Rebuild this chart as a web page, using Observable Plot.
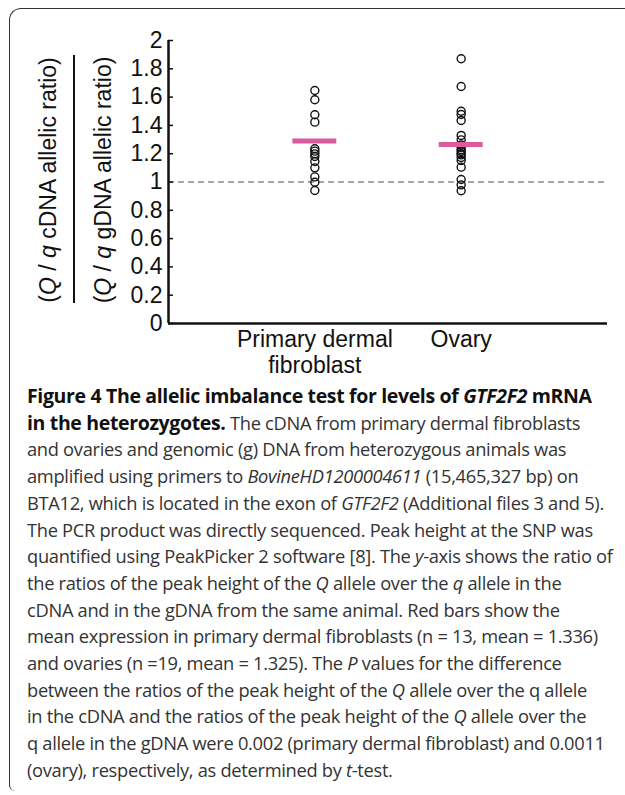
<!DOCTYPE html>
<html>
<head>
<meta charset="utf-8">
<script src="https://cdn.jsdelivr.net/npm/d3@7"></script>
<script src="https://cdn.jsdelivr.net/npm/@observablehq/plot@0.6"></script>
<style>
  html, body { margin: 0; padding: 0; background: #fff; }
  #wrap { position: relative; width: 625px; height: 795px; overflow: hidden; }
  #frame { position: absolute; left: 9px; top: 8px; width: 640px; height: 782px;
    border-top: 1.6px solid #333; border-left: 1.6px solid #333; border-top-left-radius: 12px; border-bottom-left-radius: 6px; }
  #chart { position: absolute; left: 0; top: 0; }
  .ytitle { position: absolute; transform: translate(-50%, -50%) rotate(-90deg); white-space: nowrap;
    font-family: "Liberation Sans", Arial, sans-serif; font-size: 23px; color: #111; }
  #fracbar { position: absolute; left: 73px; top: 55px; width: 2px; height: 248px; background: #111; }
  #caption { position: absolute; left: 27px; top: 383px; font-family: "Open Sans", sans-serif; font-size: 18.3px;
    line-height: 26.7px; color: #333; white-space: nowrap; letter-spacing: -0.3px; }
  #caption b { color: #111; font-size: 19.5px; letter-spacing: -0.35px; }
</style>
</head>
<body>
<div id="wrap">
  <div id="frame"></div>
  <div id="chart"></div>
  <div class="ytitle" style="left:48px; top:180px;">(<i>Q</i> / <i>q</i> cDNA allelic ratio)</div>
  <div id="fracbar"></div>
  <div class="ytitle" style="left:103px; top:180px;">(<i>Q</i> / <i>q</i> gDNA allelic ratio)</div>
  <div id="caption">
    <b>Figure 4 The allelic imbalance test for levels of <i>GTF2F2</i> mRNA</b><br>
    <b>in the heterozygotes.</b> The cDNA from primary dermal fibroblasts<br>
    and ovaries and genomic (g) DNA from heterozygous animals was<br>
    amplified using primers to <i>BovineHD1200004611</i> (15,465,327 bp) on<br>
    BTA12, which is located in the exon of <i>GTF2F2</i> (Additional files 3 and 5).<br>
    The PCR product was directly sequenced. Peak height at the SNP was<br>
    quantified using PeakPicker 2 software [8]. The <i>y</i>-axis shows the ratio of<br>
    the ratios of the peak height of the <i>Q</i> allele over the <i>q</i> allele in the<br>
    cDNA and in the gDNA from the same animal. Red bars show the<br>
    mean expression in primary dermal fibroblasts (n = 13, mean = 1.336)<br>
    and ovaries (n =19, mean = 1.325). The <i>P</i> values for the difference<br>
    between the ratios of the peak height of the <i>Q</i> allele over the q allele<br>
    in the cDNA and the ratios of the peak height of the <i>Q</i> allele over the<br>
    q allele in the gDNA were 0.002 (primary dermal fibroblast) and 0.0011<br>
    (ovary), respectively, as determined by <i>t</i>-test.
  </div>
</div>
<script>
const categories = ["Primary dermal\nfibroblast", "Ovary"];
const fibroblastRatios = [1.647, 1.581, 1.475, 1.423, 1.235, 1.218, 1.199, 1.180, 1.145, 1.100, 1.036, 0.998, 0.940];
const ovaryRatios = [1.871, 1.675, 1.500, 1.477, 1.435, 1.329, 1.298, 1.262, 1.246, 1.228, 1.216, 1.200, 1.192, 1.173, 1.152, 1.105, 1.018, 0.980, 0.938];
const groupMeans = [1.29, 1.265];
const yTicks = [0, 0.2, 0.4, 0.6, 0.8, 1, 1.2, 1.4, 1.6, 1.8, 2];
const yTickLabels = ["0", "0.2", "0.4", "0.6", "0.8", "1", "1.2", "1.4", "1.6", "1.8", "2"];
const referenceLine = 1;

const points = [
  ...fibroblastRatios.map(v => ({g: 1, v})),
  ...ovaryRatios.map(v => ({g: 2, v}))
];
const meanBars = groupMeans.map((m, i) => ({g: i + 1, m}));
const halfBar = 0.15;

const chart = Plot.plot({
  width: 625,
  height: 380,
  marginLeft: 168,
  marginRight: 18,
  marginTop: 40,
  marginBottom: 57,
  style: {fontFamily: "'Liberation Sans', Arial, sans-serif", fontSize: "23px", color: "#111", background: "transparent"},
  x: {domain: [0, 3], axis: null},
  y: {domain: [0, 2], axis: null},
  marks: [
    Plot.ruleY([referenceLine], {stroke: "#8a8a8a", strokeWidth: 1.3, strokeDasharray: "6,4"}),
    Plot.axisY({ticks: yTicks, tickFormat: (d) => yTickLabels[yTicks.indexOf(d)], tickSize: 0, tickPadding: 6, fontSize: 23}),
    Plot.tickY(yTicks, {y: d => d, insetRight: 434, stroke: "#111", strokeWidth: 1.5}),
    Plot.ruleX([0], {y1: 0, y2: 2, stroke: "#111", strokeWidth: 2.5}),
    Plot.ruleY([0], {stroke: "#111", strokeWidth: 2.5}),
    Plot.dot(points, {x: "g", y: "v", r: 4, stroke: "#111", strokeWidth: 1.4, fill: "none"}),
    Plot.ruleY(meanBars, {x1: d => d.g - halfBar, x2: d => d.g + halfBar, y: "m", stroke: "#dc5a9e", strokeWidth: 5}),
    Plot.text(categories, {x: (d, i) => i + 1, y: 0, dy: 6, lineAnchor: "top", lineHeight: 1.1, fontSize: 23, fill: "#111"})
  ]
});
document.getElementById("chart").appendChild(chart);
</script>
</body>
</html>
